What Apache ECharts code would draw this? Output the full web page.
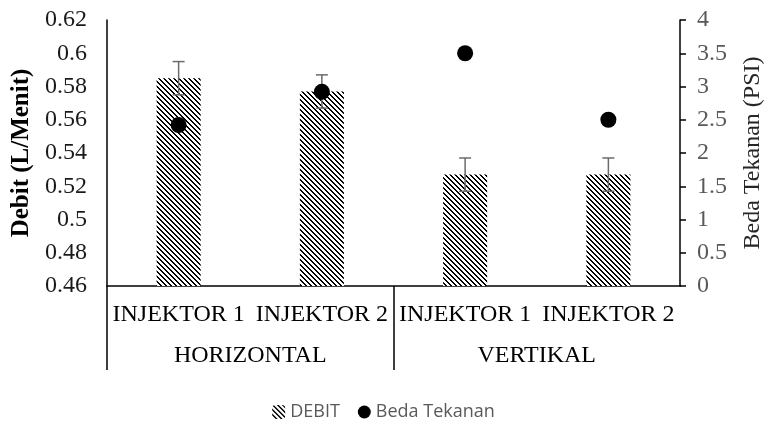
<!DOCTYPE html>
<html>
<head>
<meta charset="utf-8">
<script src="https://cdn.jsdelivr.net/npm/echarts@6/dist/echarts.min.js"></script>
<style>
  html, body { margin: 0; padding: 0; background: #fff; }
  #chart { width: 767px; height: 421px; }
</style>
</head>
<body>
<div id="chart"></div>
<script>
// data
const injectors = ['INJEKTOR 1', 'INJEKTOR 2', 'INJEKTOR 1', 'INJEKTOR 2'];
const groups = ['HORIZONTAL', 'VERTIKAL'];
const debit = [0.585, 0.577, 0.527, 0.527];
const debitErr = [0.01, 0.01, 0.01, 0.01];
const bedaTekanan = [2.42, 2.92, 3.5, 2.5];

// diagonal hatch like the excel pattern fill
function hatch() {
  const c = document.createElement('canvas');
  c.width = 5; c.height = 5;
  const ctx = c.getContext('2d');
  ctx.fillStyle = '#fff';
  ctx.fillRect(0, 0, 5, 5);
  ctx.fillStyle = '#000';
  for (let i = 0; i < 5; i++) {
    ctx.fillRect(i, i, 1, 1);
    ctx.fillRect((i + 1) % 5, i, 1, 1);
  }
  return { image: c, repeat: 'repeat' };
}

const serif = 'Liberation Serif';
const chart = echarts.init(document.getElementById('chart'));

chart.setOption({
  animation: false,
  grid: { left: 107, right: 87, top: 20, bottom: 135, outerBoundsMode: 'none' },
  legend: {
    top: 398,
    left: 'center',
    itemWidth: 13,
    itemHeight: 14,
    itemGap: 18,
    textStyle: { fontFamily: 'Open Sans', fontSize: 18, color: '#595959' },
    data: ['DEBIT', 'Beda Tekanan']
  },
  xAxis: [
    {
      type: 'category',
      data: injectors,
      axisLine: { onZero: false, lineStyle: { color: '#000', width: 1.5 } },
      axisTick: { show: false },
      axisLabel: { interval: 0, margin: 17, fontFamily: serif, fontSize: 24, color: '#000' }
    },
    {
      type: 'value',
      min: 0,
      max: 4,
      position: 'bottom',
      axisLine: { show: false },
      splitLine: { show: false },
      axisTick: { show: true, customValues: [0, 2], length: 84, lineStyle: { color: '#000', width: 1.5 } },
      axisLabel: {
        customValues: [1, 3],
        formatter: v => groups[(v - 1) / 2],
        margin: 58, fontFamily: serif, fontSize: 24, color: '#000'
      }
    }
  ],
  yAxis: [
    {
      type: 'value',
      min: 0.46,
      max: 0.62,
      interval: 0.02,
      name: 'Debit (L/Menit)',
      nameLocation: 'middle',
      nameGap: 72,
      nameTextStyle: { fontFamily: serif, fontSize: 25, fontWeight: 'bold', color: '#000' },
      axisLine: { show: true, lineStyle: { color: '#000', width: 1.5 } },
      axisTick: { show: false },
      splitLine: { show: false },
      axisLabel: { margin: 20, fontFamily: serif, fontSize: 24, color: '#1a1a1a' }
    },
    {
      type: 'value',
      min: 0,
      max: 4,
      interval: 0.5,
      position: 'right',
      name: 'Beda Tekanan (PSI)',
      nameLocation: 'middle',
      nameGap: 61,
      nameRotate: 90,
      nameTextStyle: { fontFamily: serif, fontSize: 24, color: '#262626' },
      axisLine: { show: true, lineStyle: { color: '#000', width: 1.5 } },
      axisTick: { show: true, length: 6, lineStyle: { color: '#000', width: 1.5 } },
      splitLine: { show: false },
      axisLabel: { margin: 17, fontFamily: serif, fontSize: 24, color: '#595959' }
    }
  ],
  series: [
    {
      name: 'DEBIT',
      type: 'bar',
      xAxisIndex: 0,
      yAxisIndex: 0,
      barWidth: 44,
      data: debit,
      itemStyle: { color: hatch() }
    },
    {
      name: 'error',
      type: 'custom',
      xAxisIndex: 0,
      yAxisIndex: 0,
      z: 3,
      data: debit.map((v, i) => [i, v, debitErr[i]]),
      renderItem(params, api) {
        const i = api.value(0);
        const hi = api.coord([i, api.value(1) + api.value(2)]);
        const lo = api.coord([i, api.value(1) - api.value(2)]);
        const w = 6;
        const st = { stroke: '#6b6b6b', lineWidth: 1.5 };
        return {
          type: 'group',
          children: [
            { type: 'line', shape: { x1: hi[0], y1: hi[1], x2: lo[0], y2: lo[1] }, style: st },
            { type: 'line', shape: { x1: hi[0] - w, y1: hi[1], x2: hi[0] + w, y2: hi[1] }, style: st },
            { type: 'line', shape: { x1: lo[0] - w, y1: lo[1], x2: lo[0] + w, y2: lo[1] }, style: st }
          ]
        };
      }
    },
    {
      name: 'Beda Tekanan',
      type: 'scatter',
      xAxisIndex: 0,
      yAxisIndex: 1,
      z: 4,
      symbolSize: 16,
      data: bedaTekanan,
      itemStyle: { color: '#000', opacity: 1 }
    }
  ]
});
</script>
</body>
</html>
